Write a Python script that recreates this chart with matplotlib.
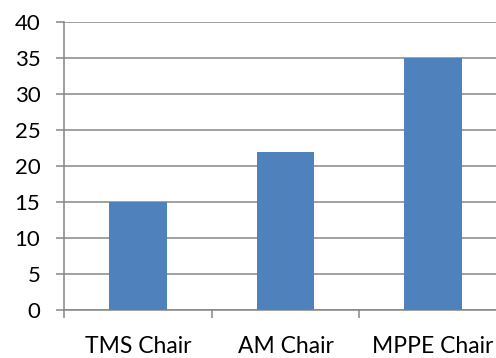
import matplotlib.pyplot as plt

# Chart data
categories = ['TMS Chair', 'AM Chair', 'MPPE Chair']
values = [15, 22, 35]
yticks = [0, 5, 10, 15, 20, 25, 30, 35, 40]

plt.rcParams['font.family'] = ['Lato', 'DejaVu Sans']

fig = plt.figure(figsize=(4.96, 3.58), dpi=100)
# plot area runs a little past the right edge, as in the reference
ax = fig.add_axes([64 / 496, 48 / 358, 443 / 496, 288 / 358])

grid_color = '#868686'
x = list(range(len(categories)))
ax.bar(x, values, width=0.39, color='#4F81BD', zorder=3)

ax.set_xlim(-0.5, len(categories) - 0.5)
ax.set_ylim(0, 40)
ax.set_yticks(yticks)
ax.set_yticklabels([str(v) for v in yticks])
ax.grid(axis='y', color=grid_color, linewidth=1.1, zorder=0)

ax.set_xticks(x)
ax.set_xticklabels(categories)
ax.set_xticks([i - 0.5 for i in range(len(categories) + 1)], minor=True)

for side in ['top', 'right']:
    ax.spines[side].set_visible(False)
for side in ['left', 'bottom']:
    ax.spines[side].set_color(grid_color)
    ax.spines[side].set_linewidth(1.1)

ax.tick_params(axis='y', length=6, width=1.1, color=grid_color, pad=11, labelsize=16)
ax.tick_params(axis='x', which='major', length=0, pad=19, labelsize=16.5)
ax.tick_params(axis='x', which='minor', length=6, width=1.1, color=grid_color)

fig.savefig('out.png', dpi=100)
